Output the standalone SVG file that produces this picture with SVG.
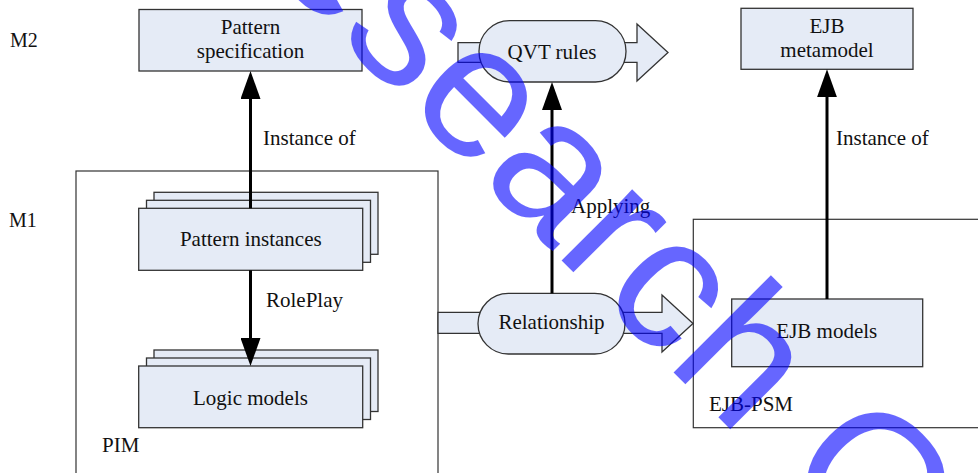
<svg xmlns="http://www.w3.org/2000/svg" width="978" height="473" viewBox="0 0 978 473">
<defs>
<style>
.box{fill:#e5ebf6;stroke:#333;stroke-width:1.3}
.cont{fill:none;stroke:#333;stroke-width:1.2}
.t{font-family:'Liberation Serif','DejaVu Serif',Times,serif;font-size:21px;fill:#111}
.m{font-size:20px}
.c{text-anchor:middle}
.arr{stroke:#000;stroke-width:3;fill:none}
.wm{font-family:'Liberation Sans',Arial,sans-serif;font-size:190px;fill:#0000ff;fill-opacity:0.6}
</style>
<marker id="ah" viewBox="0 0 28 20" refX="18" refY="10" markerWidth="28" markerHeight="20" markerUnits="userSpaceOnUse" orient="auto">
<path d="M0,0 L28,10 L0,20 Z" fill="#000"/>
</marker>
</defs>
<rect width="978" height="473" fill="#fff"/>

<g id="levels">
<text class="t m" font-family="Liberation Serif, serif" x="10" y="47">M2</text>
<text class="t m" font-family="Liberation Serif, serif" x="9" y="227">M1</text>
</g>

<g id="pim">
<rect class="cont" x="76" y="171" width="362" height="330"/>
<text class="t" font-family="Liberation Serif, serif" x="102" y="452">PIM</text>
</g>

<g id="ejb-psm">
<rect class="cont" x="693.3" y="219.3" width="300" height="208.4"/>
<text class="t" font-family="Liberation Serif, serif" x="709" y="411">EJB-PSM</text>
</g>

<g id="pattern-specification">
<rect class="box" x="139" y="9.5" width="223" height="61.5"/>
<text class="t c" font-family="Liberation Serif, serif" x="250.5" y="34">Pattern</text>
<text class="t c" font-family="Liberation Serif, serif" x="250.5" y="58">specification</text>
</g>

<g id="ejb-metamodel">
<rect class="box" x="741" y="8.3" width="172" height="61"/>
<text class="t c" font-family="Liberation Serif, serif" x="827" y="33">EJB</text>
<text class="t c" font-family="Liberation Serif, serif" x="827" y="57">metamodel</text>
</g>

<g id="qvt-rules">
<polygon class="box" points="458,42.7 637,42.7 637,24 668,52.5 637,81 637,62.3 458,62.3"/>
<rect class="box" x="479" y="20.7" width="147" height="61.3" rx="30.6" ry="30.6"/>
<text class="t c" font-family="Liberation Serif, serif" x="552" y="58.5">QVT rules</text>
</g>

<g id="pattern-instances">
<rect class="box" x="154" y="192.3" width="224" height="62"/>
<rect class="box" x="146.5" y="200.3" width="224" height="62"/>
<rect class="box" x="138.7" y="208.3" width="224" height="62"/>
<text class="t c" font-family="Liberation Serif, serif" x="250.8" y="245.7">Pattern instances</text>
</g>

<g id="logic-models">
<rect class="box" x="154" y="350" width="224" height="61.5"/>
<rect class="box" x="146.5" y="358" width="224" height="61.5"/>
<rect class="box" x="138.7" y="366" width="224" height="61.7"/>
<text class="t c" font-family="Liberation Serif, serif" x="250.5" y="405">Logic models</text>
</g>

<g id="relationship">
<polygon class="box" points="438,312.3 662,312.3 662,295 693,323.5 662,352 662,333.3 438,333.3"/>
<rect class="box" x="478" y="293.3" width="147" height="60.7" rx="30.3" ry="30.3"/>
<text class="t c" font-family="Liberation Serif, serif" x="551.5" y="329.3">Relationship</text>
</g>

<g id="ejb-models">
<rect class="box" x="731.7" y="299" width="191" height="67.7"/>
<text class="t c" font-family="Liberation Serif, serif" x="826.8" y="338.3">EJB models</text>
</g>

<g id="connectors">
<line class="arr" x1="250.5" y1="208.3" x2="250.5" y2="81" marker-end="url(#ah)"/>
<text class="t" font-family="Liberation Serif, serif" x="263" y="144.5">Instance of</text>
<line class="arr" x1="250.5" y1="270.3" x2="250.5" y2="356" marker-end="url(#ah)"/>
<text class="t" font-family="Liberation Serif, serif" x="266" y="306.7">RolePlay</text>
<line class="arr" x1="552" y1="293.3" x2="552" y2="92" marker-end="url(#ah)"/>
<text class="t" font-family="Liberation Serif, serif" x="571" y="213.3">Applying</text>
<line class="arr" x1="827" y1="299" x2="827" y2="79.3" marker-end="url(#ah)"/>
<text class="t" font-family="Liberation Serif, serif" x="836" y="145">Instance of</text>
</g>

<g id="watermark" transform="translate(164,-137) rotate(45)">
<text class="wm" x="0" y="0">Research Gate</text>
</g>
</svg>
